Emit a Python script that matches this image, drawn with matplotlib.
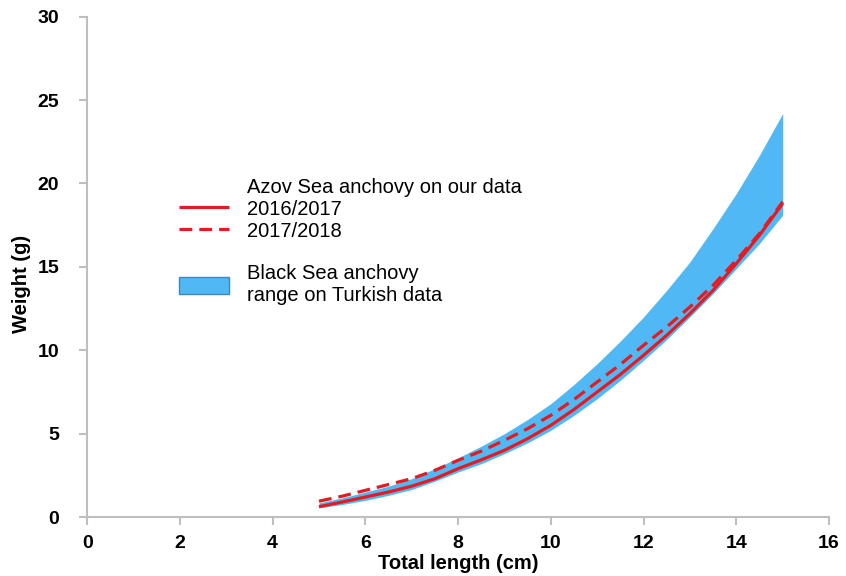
import matplotlib
matplotlib.use("Agg")
import matplotlib.pyplot as plt
from matplotlib.lines import Line2D
from matplotlib.patches import Patch

plt.rcParams['font.family'] = ['Liberation Sans', 'DejaVu Sans']

# total length (cm) and weight (g)
length = [5, 5.5, 6, 6.5, 7, 7.5, 8, 8.5, 9, 9.5, 10,
          10.5, 11, 11.5, 12, 12.5, 13, 13.5, 14, 14.5, 15]
azov_2016 = [0.62, 0.9, 1.2, 1.5, 1.85, 2.3, 2.9, 3.43, 4.0, 4.7, 5.5,
             6.45, 7.5, 8.55, 9.7, 10.9, 12.2, 13.6, 15.2, 16.9, 18.8]
azov_2017 = [0.95, 1.25, 1.6, 1.95, 2.3, 2.8, 3.4, 3.95, 4.6, 5.3, 6.1,
             7.05, 8.1, 9.15, 10.3, 11.4, 12.6, 13.9, 15.4, 17.0, 18.9]
black_sea_low = [0.55, 0.75, 1.0, 1.3, 1.65, 2.15, 2.7, 3.2, 3.8, 4.45, 5.2,
                 6.1, 7.1, 8.2, 9.4, 10.65, 12.0, 13.4, 14.9, 16.4, 18.1]
black_sea_high = [0.85, 1.15, 1.5, 1.85, 2.3, 2.9, 3.55, 4.25, 5.0, 5.85, 6.8,
                  7.95, 9.2, 10.55, 12.0, 13.6, 15.3, 17.3, 19.4, 21.7, 24.2]

x_ticks = [0, 2, 4, 6, 8, 10, 12, 14, 16]
y_ticks = [0, 5, 10, 15, 20, 25, 30]

blue = '#50B9F5'
red = '#E51B22'
grey = '#BFBFBF'

fig = plt.figure(figsize=(8.46, 5.76), dpi=100)
ax = fig.add_axes([0.103, 0.1024, 0.877, 0.8686])

ax.fill_between(length, black_sea_low, black_sea_high, color=blue, linewidth=0, zorder=1)
solid, = ax.plot(length, azov_2016, color=red, lw=2.3, solid_capstyle='butt', zorder=3)
dashed, = ax.plot(length, azov_2017, color=red, lw=2.3, ls=(0, (4, 2.2)), zorder=3)

ax.set_xlim(0, 16)
ax.set_ylim(0, 30)
ax.set_xticks(x_ticks)
ax.set_yticks(y_ticks)
for side in ['top', 'right']:
    ax.spines[side].set_visible(False)
for side in ['left', 'bottom']:
    ax.spines[side].set_color(grey)
    ax.spines[side].set_linewidth(1.5)
ax.tick_params(direction='out', length=6, width=1.5, color=grey, labelsize=14)
ax.tick_params(axis='x', pad=7)
ax.tick_params(axis='y', pad=14)
plt.setp(ax.get_xticklabels() + ax.get_yticklabels(), fontweight='bold')

ax.set_xlabel('Total length (cm)', fontsize=14.5, fontweight='bold')
ax.set_ylabel('Weight (g)', fontsize=14.5, fontweight='bold')
ax.xaxis.set_label_coords(0.5, -0.074)
ax.yaxis.set_label_coords(-0.076, 0.465)

blank = Line2D([], [], color='none')
handles = [blank, solid, dashed, blank,
           Patch(facecolor=blue, edgecolor='#3D86BF', linewidth=1)]
labels = ['Azov Sea anchovy on our data', '2016/2017', '2017/2018', ' ',
          'Black Sea anchovy\nrange on Turkish data']
ax.legend(handles, labels, loc='upper left', bbox_to_anchor=(0.124, 0.678),
          frameon=False, fontsize=14.5, handlelength=2.5, handleheight=0.95,
          handletextpad=0.85, labelspacing=0.1, borderpad=0, borderaxespad=0)

fig.savefig('out.png', dpi=100)
